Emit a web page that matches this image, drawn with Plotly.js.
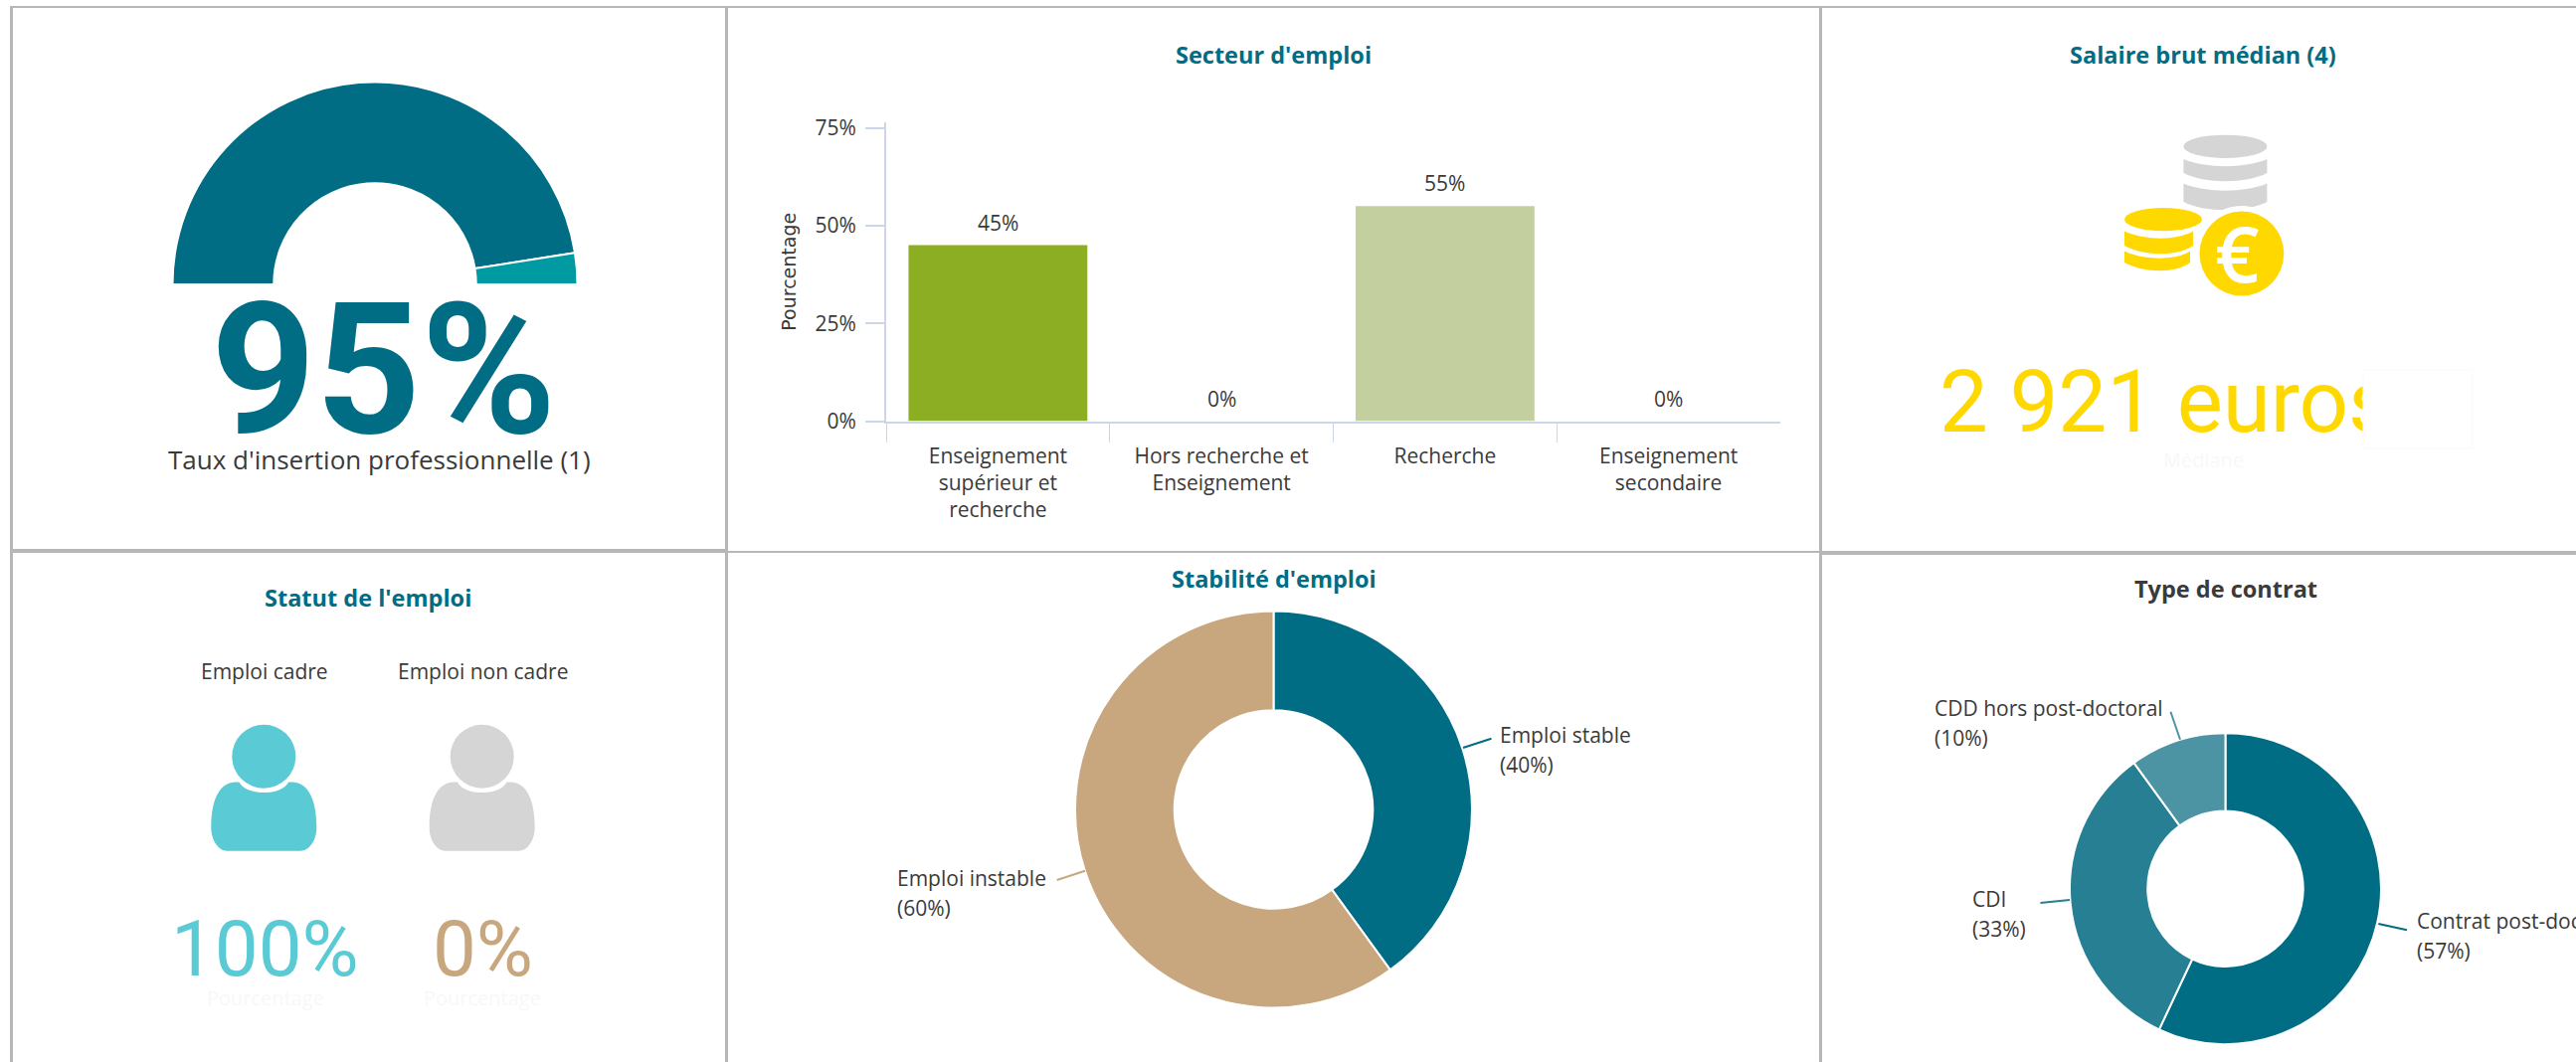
<!DOCTYPE html>
<html><head><meta charset="utf-8">
<script src="https://cdn.plot.ly/plotly-3.0.1.min.js"></script>
<style>html,body{margin:0;padding:0;background:#fff;overflow:hidden}#c{width:2590px;height:1068px}</style>
</head><body><div id="c"></div>
<script>
// ---- data ----
const gaugeLabels = ["Taux d'insertion", "Non inséré", ""];
const gaugeValues = [95, 5, 100];
const sectorCategories = ["Enseignement<br>supérieur et<br>recherche", "Hors recherche et<br>Enseignement", "Recherche", "Enseignement<br>secondaire"];
const sectorValues = [45, 0, 55, 0];
const stabilityLabels = ["Emploi stable", "Emploi instable"];
const stabilityValues = [40, 60];
const contractLabels = ["Contrat post-doctoral", "CDI", "CDD hors post-doctoral"];
const contractValues = [57, 33, 10];
const statusLabels = ["Emploi cadre", "Emploi non cadre"];
const statusValues = [100, 0];
const salaryText = "2 921 euros";

// ---- style ----
const W = 2590, H = 1068;
const FONT = '"Open Sans", "Noto Sans", sans-serif';
const NUM = 'Roboto, "Open Sans", sans-serif';
const TEAL = '#006d85', TEAL2 = '#267f92', TEAL3 = '#4c93a3', CYAN = '#009aa2';
const TAN = '#c8a77f', GREEN = '#8cae22', SAGE = '#c4cf9f', GREY = '#d5d5d5';
const SKY = '#5acbd5', GOLD = '#ffd800', TXT = '#3a3a3a', AXIS = '#ccd6eb', RULE = '#b7b7b7';

const dom = (cx, cy, r) => ({x: [(cx - r) / W, (cx + r) / W], y: [1 - (cy + r) / H, 1 - (cy - r) / H]});
const pie = (labels, values, colors, d, rot) => ({
  type: 'pie', labels, values, domain: d, hole: 0.5, sort: false, direction: 'clockwise', rotation: rot,
  textinfo: 'none', hoverinfo: 'label+percent', showlegend: false,
  marker: {colors, line: {color: '#ffffff', width: 2}}
});

const traces = [
  pie(gaugeLabels, gaugeValues, [TEAL, CYAN, 'rgba(0,0,0,0)'], dom(377, 286, 203.5), -90),
  pie(stabilityLabels, stabilityValues, [TEAL, TAN], dom(1280.5, 814, 199.5), 0),
  pie(contractLabels, contractValues, [TEAL, TEAL2, TEAL3], dom(2237.5, 893.7, 156.5), 0),
  {type: 'bar', x: sectorCategories, y: sectorValues, xaxis: 'x', yaxis: 'y', width: 0.8,
   marker: {color: [GREEN, '#7cb5ec', SAGE, '#7cb5ec']}, hoverinfo: 'x+y', showlegend: false},
  {type: 'scatter', mode: 'text', x: [1950], y: [412], xaxis: 'x2', yaxis: 'y2', text: [salaryText],
   textposition: 'middle right', textfont: {family: NUM, size: 87, color: GOLD, weight: 400}, hoverinfo: 'skip',
   showlegend: false, cliponaxis: false}
];

// ---- helpers for decorations (pixel-like overlay axes) ----
const ov = {xref: 'x2', yref: 'y2'};
const rect = (x0, y0, x1, y1, fill, extra) => Object.assign({type: 'rect', x0, y0, x1, y1, fillcolor: fill, line: {width: 0}, layer: 'above'}, ov, extra || {});
const circ = (cx, cy, rx, ry, fill) => Object.assign({type: 'circle', x0: cx - rx, x1: cx + rx, y0: cy - ry, y1: cy + ry, fillcolor: fill, line: {width: 0}, layer: 'above'}, ov);
const path = (d, fill) => Object.assign({type: 'path', path: d, fillcolor: fill, line: {width: 0}, layer: 'above'}, ov);
const seg = (x0, y0, x1, y1, color) => Object.assign({type: 'line', x0, y0, x1, y1, line: {color, width: 2}, layer: 'above'}, ov);

function person(cx, color) {
  return [
    circ(cx, 760.7, 32, 32, color),
    path(`M ${cx - 24.6} 786.7 C ${cx - 18} 800.5 ${cx + 18} 800.5 ${cx + 24.6} 786.7 ` +
         `C ${cx + 42} 784 ${cx + 53} 800 ${cx + 53} 832 C ${cx + 53} 846 ${cx + 45} 855.7 ${cx + 37} 855.7 ` +
         `L ${cx - 37} 855.7 C ${cx - 45} 855.7 ${cx - 53} 846 ${cx - 53} 832 C ${cx - 53} 800 ${cx - 42} 784 ${cx - 24.6} 786.7 Z`, color)
  ];
}
function band(cx, rx, yTop, yBot, color, rxRight) {
  const r = rxRight === undefined ? rx : rxRight;
  return path(`M ${cx - rx} ${yTop} C ${cx - rx * 0.5} ${yTop + 9.5} ${cx + r * 0.5} ${yTop + 9.5} ${cx + r} ${yTop} ` +
              `L ${cx + r} ${yBot} C ${cx + r * 0.5} ${yBot + 11} ${cx - rx * 0.5} ${yBot + 11} ${cx - rx} ${yBot} Z`, color);
}

const shapes = [
  // panel rules
  rect(10, 6, 2590, 8, RULE),
  rect(10, 6, 13, 1068, RULE),
  rect(729, 6, 732, 1068, RULE),
  rect(1829, 6, 1832, 1068, RULE),
  rect(10, 552, 729, 556, RULE),
  rect(732, 554, 1829, 556, RULE),
  rect(1832, 554, 2590, 558, RULE),
  // mask and its faint outline over the salary text
  rect(2376, 372, 2486, 451, '#ffffff', {line: {color: '#fafafa', width: 1}}),
  // gray coins
  circ(2237.4, 147.3, 42, 11.6, GREY),
  band(2237.4, 42, 160, 174, GREY),
  band(2237.4, 42, 184.6, 203, GREY),
  // gold coins
  circ(2175, 220.6, 39, 11.6, GOLD),
  band(2175, 39, 232.5, 247, GOLD, 30),
  band(2175, 39, 252.5, 264, GOLD, 27),
  circ(2253.9, 255, 48, 48, '#ffffff'),
  circ(2253.9, 255, 42.4, 42.5, GOLD),
  // people
  ...person(265.3, SKY),
  ...person(484.7, GREY),
  // pie connectors
  seg(1471, 752, 1499.5, 742.7, TEAL),
  seg(1091, 875.7, 1062.7, 885, TAN),
  seg(2391.3, 929, 2420, 935.3, TEAL),
  seg(2081, 905, 2051.5, 908, TEAL2),
  seg(2192, 743.7, 2182.4, 715.7, TEAL3)
];

const note = (text, x, y, size, color, opt) => Object.assign({
  text, x, y, xref: 'x2', yref: 'y2', showarrow: false, xanchor: 'center', yanchor: 'middle',
  align: 'center', font: {family: FONT, size, color}
}, opt || {});
const bold = t => '<b>' + t + '</b>';
const left = {xanchor: 'left', align: 'left'};
const LBL = 21;
// a two-line pie label, set line by line for the reference's 30 px leading
const pieLabel = (label, value, x, y) => [
  note(label, x - 3, y, LBL, TXT, left),
  note(`(${value}%)`, x - 3, y + 30, LBL, TXT, left)
];
const big = (text, x, y, size, color) => note(text, x, y, size, color, {font: {family: NUM, size, color, weight: 400}});

const barNotes = sectorValues.map((v, i) => ({
  text: v + '%', x: sectorCategories[i], y: v, xref: 'x', yref: 'y', showarrow: false,
  yanchor: 'middle', yshift: 23, font: {family: FONT, size: 21, color: TXT}
}));

const annotations = [
  note(bold(gaugeValues[0] + '%'), 385, 372, 184, TEAL, {font: {family: NUM, size: 184, color: TEAL}}),
  note("Taux d'insertion professionnelle (1)", 381, 462, 26, TXT),
  note(bold("Secteur d'emploi"), 1280.8, 55, 23.5, TEAL),
  note(bold('Salaire brut médian (4)'), 2215, 55, 23.5, TEAL),
  note(bold("Statut de l'emploi"), 370, 601, 23.5, TEAL),
  note(bold("Stabilité d'emploi"), 1280.8, 582, 23.5, TEAL),
  note(bold('Type de contrat'), 2237.7, 592, 23.5, TXT),
  note('€', 2249, 254, 78, '#ffffff', {font: {family: FONT, size: 78, color: '#ffffff', weight: 600}}),
  note('Médiane', 2215, 462, 20, '#f8f8f8'),
  note(statusLabels[0], 265.6, 675, LBL, TXT),
  note(statusLabels[1], 485, 675, LBL, TXT),
  big(statusValues[0] + '%', 266.8, 954, 78, SKY),
  big(statusValues[1] + '%', 485, 954, 78, TAN),
  note('Pourcentage', 266.6, 1003, 20, '#f8f8f8'),
  note('Pourcentage', 485, 1003, 20, '#f8f8f8'),
  ...pieLabel(stabilityLabels[0], stabilityValues[0], 1508.7, 739),
  ...pieLabel(stabilityLabels[1], stabilityValues[1], 902.7, 882.7),
  ...pieLabel(contractLabels[0], contractValues[0], 2431, 926),
  ...pieLabel(contractLabels[1], contractValues[1], 1984, 904),
  ...pieLabel(contractLabels[2], contractValues[2], 1946.3, 712),
  ...barNotes
];

const layout = {
  width: W, height: H, margin: {l: 0, r: 0, t: 0, b: 0, pad: 0},
  paper_bgcolor: '#ffffff', plot_bgcolor: 'rgba(0,0,0,0)', showlegend: false,
  font: {family: FONT, color: TXT},
  xaxis: {
    domain: [891 / W, 1790 / W], anchor: 'y', type: 'category', tickson: 'boundaries', ticks: 'outside',
    ticklen: 19, tickwidth: 1, tickcolor: AXIS, showline: true, linecolor: AXIS, linewidth: 2, showgrid: false, zeroline: false,
    tickfont: {family: FONT, size: 21, color: TXT}, tickangle: 0, ticklabelstandoff: 15, fixedrange: true
  },
  yaxis: {
    domain: [1 - 423.5 / H, 1 - 123 / H], anchor: 'x', range: [0, 76.4], tickvals: [0, 25, 50, 75], ticktext: ['0%', '25%', '50%', '75%'],
    ticks: 'outside', ticklen: 19, tickwidth: 2, tickcolor: AXIS, showline: true, linecolor: AXIS, linewidth: 2,
    showgrid: false, zeroline: false, ticklabelstandoff: 5, fixedrange: true,
    tickfont: {family: FONT, size: 21, color: TXT},
    title: {text: 'Pourcentage', standoff: 14, font: {family: '"DejaVu Sans", sans-serif', size: 19, color: TXT}}
  },
  xaxis2: {domain: [0, 1], range: [0, W], anchor: 'y2', visible: false, fixedrange: true},
  yaxis2: {domain: [0, 1], range: [H, 0], anchor: 'x2', visible: false, fixedrange: true},
  shapes, annotations
};
Plotly.newPlot('c', traces, layout, {displayModeBar: false, staticPlot: false, responsive: false});
</script></body></html>
